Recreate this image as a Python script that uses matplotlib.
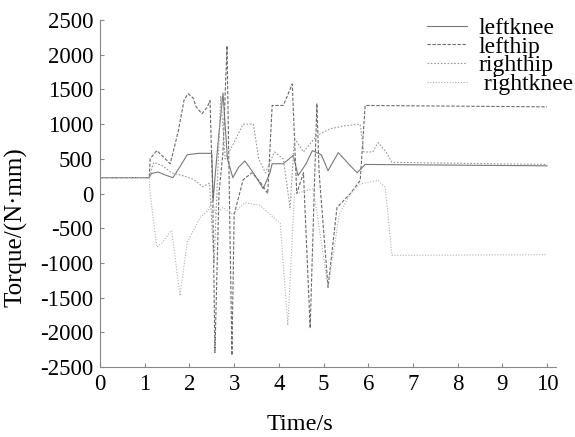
import numpy as np
import matplotlib.pyplot as plt

plt.rcParams['font.family'] = ['Liberation Serif', 'DejaVu Serif']
plt.rcParams['axes.unicode_minus'] = False

# leftknee
t_lk = [0, 1.1, 1.15, 1.3, 1.45, 1.63, 1.8, 1.95, 2.2, 2.5, 2.53, 2.58, 2.65, 2.75, 2.85,
        2.97, 3.1, 3.24, 3.45, 3.65, 3.8, 3.85, 4.1, 4.32, 4.43, 4.6, 4.75, 4.95, 5.1, 5.33,
        5.6, 5.75, 5.93, 10]
v_lk = [230, 230, 290, 310, 270, 230, 400, 560, 580, 580, -100, 300, 800, 1450, 500,
        230, 380, 470, 280, 70, 300, 430, 430, 550, 260, 420, 620, 560, 330, 590,
        400, 300, 420, 400]

# lefthip
t_lh = [0, 1.1, 1.12, 1.27, 1.57, 1.75, 1.88, 1.97, 2.08, 2.15, 2.28, 2.4, 2.46, 2.52,
        2.57, 2.66, 2.75, 2.84, 2.95, 3.0, 3.2, 3.4, 3.6, 3.75, 3.85, 4.1, 4.3, 4.4, 4.55,
        4.7, 4.85, 4.9, 5.1, 5.3, 5.6, 5.82, 5.93, 10]
v_lh = [230, 230, 500, 620, 430, 900, 1350, 1440, 1380, 1250, 1150, 1250, 1340, 0,
        -2290, 0, 600, 2130, -2330, -300, 200, 300, 150, 0, 1270, 1270, 1580, 0, 300,
        -1940, 1300, 300, -1350, -200, 0, 190, 1270, 1250]

# righthip
t_rh = [0, 1.1, 1.2, 1.4, 1.6, 1.9, 2.1, 2.3, 2.45, 2.55, 2.7, 2.8, 2.97, 3.2, 3.43,
        3.55, 3.7, 3.9, 4.1, 4.25, 4.35, 4.55, 4.85, 5.15, 5.5, 5.82, 5.9, 6.1, 6.22,
        6.4, 6.53, 10]
v_rh = [230, 230, 450, 400, 300, 250, 200, 100, 150, -1000, 1400, 500, 700, 1000, 1000,
        500, 300, 600, 500, -200, 800, 600, 835, 935, 980, 1000, 600, 600, 735,
        600, 450, 420]

# rightknee
t_rk = [0, 1.1, 1.12, 1.27, 1.4, 1.6, 1.79, 1.95, 2.24, 2.42, 2.5, 2.6, 2.75, 2.97,
        3.24, 3.58, 4.03, 4.2, 4.35, 4.47, 4.77, 5.1, 5.35, 5.6, 5.82, 6.22, 6.38,
        6.53, 10]
v_rk = [230, 230, 0, -770, -700, -530, -1470, -700, -345, -245, -100, -300, -200, -300,
        -130, -170, -430, -1900, 0, 15, 70, -1350, -300, 0, 140, 190, 90,
        -890, -880]

fig = plt.figure(figsize=(5.75, 4.37), dpi=100)
ax = fig.add_axes([0.174, 0.160, 0.793, 0.794])

ax.plot(t_lk, v_lk, color='#7a7a7a', lw=0.8, ls='-', label='leftknee')
ax.plot(t_lh, v_lh, color='#6a6a6a', lw=0.8, ls=(0, (3, 1.5)), label='lefthip')
ax.plot(t_rh, v_rh, color='#9a9a9a', lw=0.8, ls=(0, (1.5, 1.5)), label='righthip')
ax.plot(t_rk, v_rk, color='#b0b0b0', lw=0.8, ls=(0, (1, 1.5)), label=' rightknee')

ax.set_xlim(0, 10.2)
ax.set_ylim(-2500, 2500)
ax.set_xticks(range(0, 11))
ax.set_yticks(range(-2500, 2501, 500))
ax.tick_params(direction='in', labelsize=16.5, color='#888888', length=3, pad=5)
for s in ['top', 'right']:
    ax.spines[s].set_visible(False)
for s in ['left', 'bottom']:
    ax.spines[s].set_color('#888888')

fig.text(300 / 575, 1 - 425 / 437, 'Time/s', fontsize=17.5, ha='center', va='center')
fig.text(16 / 575, 1 - 227 / 437, 'Torque/(N·mm)', fontsize=18, rotation=90,
         ha='center', va='center')

ax.legend(loc='upper right', bbox_to_anchor=(590 / 575, 0.998), bbox_transform=fig.transFigure,
          frameon=False, fontsize=17, borderpad=0.2, handlelength=1.7, handletextpad=0.47,
          labelspacing=-0.12)

fig.savefig('out.png', dpi=100)
